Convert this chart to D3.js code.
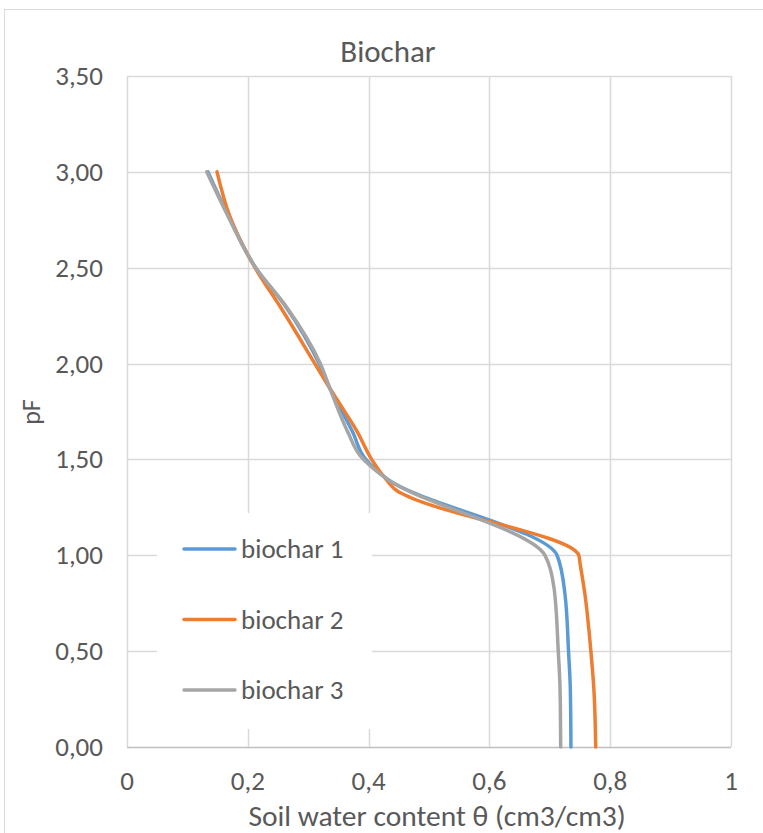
<!DOCTYPE html>
<html><head><meta charset="utf-8">
<script src="https://cdn.jsdelivr.net/npm/d3@7"></script>
<style>body{margin:0;background:#fff;} svg{display:block;}</style>
</head><body>
<script>
const seriesNames = ["biochar 1", "biochar 2", "biochar 3"];
const seriesColors = ["#5B9BD5", "#ED7D31", "#A5A5A5"];
const bio1Theta = [0.735, 0.734, 0.731, 0.725, 0.712, 0.430, 0.393, 0.374, 0.336, 0.318, 0.262, 0.213, 0.168, 0.134];
const bio1PF    = [0,     0.3,   0.5,   0.8,   1.0,   1.40,  1.51,  1.64,  1.87,  2.0,   2.3,   2.5,   2.77,  3.0];
const bio2Theta = [0.776, 0.773, 0.768, 0.758, 0.750, 0.748, 0.470, 0.450, 0.428, 0.405, 0.382, 0.336, 0.311, 0.253, 0.212, 0.170, 0.149];
const bio2PF    = [0,     0.3,   0.5,   0.8,   0.96,  1.0,   1.30,  1.33,  1.40,  1.50,  1.64,  1.87,  2.0,   2.3,   2.5,   2.77,  3.0];
const bio3Theta = [0.718, 0.717, 0.714, 0.707, 0.692, 0.427, 0.386, 0.366, 0.336, 0.320, 0.263, 0.213, 0.167, 0.132];
const bio3PF    = [0,     0.3,   0.5,   0.83,  1.0,   1.405, 1.52,  1.64,  1.87,  2.0,   2.3,   2.5,   2.77,  3.0];
const xTicks = [0, 0.2, 0.4, 0.6, 0.8, 1];
const xTickLabels = ["0", "0,2", "0,4", "0,6", "0,8", "1"];
const yTicks = [0, 0.5, 1, 1.5, 2, 2.5, 3, 3.5];
const yTickLabels = ["0,00", "0,50", "1,00", "1,50", "2,00", "2,50", "3,00", "3,50"];
const chartTitle = "Biochar";
const xTitle = "Soil water content \u03B8 (cm3/cm3)";
const yTitle = "pF";

const W = 763, H = 833;
const font = "Carlito, Calibri, Lato, 'Open Sans', sans-serif";
const txt = "#595959";
const svg = d3.select("body").append("svg").attr("width", W).attr("height", H);
svg.append("rect").attr("x", 4.5).attr("y", 9.5).attr("width", W + 10).attr("height", H + 10)
  .attr("fill", "#fff").attr("stroke", "#d9d9d9");

const x = d3.scaleLinear().domain([0, 1]).range([127, 731]);
const y = d3.scaleLinear().domain([0, 3.5]).range([747, 76]);

const grid = svg.append("g");
grid.selectAll("line.h").data(yTicks).enter().append("line")
  .attr("x1", x(0)).attr("x2", x(1)).attr("y1", d => Math.round(y(d)) + 0.5).attr("y2", d => Math.round(y(d)) + 0.5)
  .attr("stroke", d => d === 0 ? "#bfbfbf" : "#d9d9d9").attr("stroke-width", 1.5);
grid.selectAll("line.v").data(xTicks).enter().append("line")
  .attr("y1", y(0)).attr("y2", y(3.5)).attr("x1", d => Math.round(x(d)) + 0.5).attr("x2", d => Math.round(x(d)) + 0.5)
  .attr("stroke", "#d9d9d9").attr("stroke-width", 1.5);

svg.selectAll("text.yt").data(yTicks).enter().append("text")
  .attr("x", 103).attr("y", d => y(d) + 9).attr("text-anchor", "end")
  .attr("font-family", font).attr("font-size", 27).attr("fill", txt)
  .text((d, i) => yTickLabels[i]);
svg.selectAll("text.xt").data(xTicks).enter().append("text")
  .attr("x", d => x(d)).attr("y", 790).attr("text-anchor", "middle")
  .attr("font-family", font).attr("font-size", 27).attr("fill", txt)
  .text((d, i) => xTickLabels[i]);

svg.append("text").attr("x", 388).attr("y", 62).attr("text-anchor", "middle")
  .attr("font-family", font).attr("font-size", 31).attr("fill", txt).text(chartTitle);
svg.append("text").attr("x", 437).attr("y", 826).attr("text-anchor", "middle")
  .attr("font-family", font).attr("font-size", 29.5).attr("fill", txt).text(xTitle);
svg.append("text").attr("transform", "translate(40,412) rotate(-90)").attr("text-anchor", "middle")
  .attr("font-family", font).attr("font-size", 26).attr("fill", txt).text(yTitle);

const series = [
  {name: seriesNames[0], color: seriesColors[0], t: bio1Theta, p: bio1PF},
  {name: seriesNames[1], color: seriesColors[1], t: bio2Theta, p: bio2PF},
  {name: seriesNames[2], color: seriesColors[2], t: bio3Theta, p: bio3PF}
];
const line = d3.line().x(d => x(d[0])).y(d => y(d[1])).curve(d3.curveMonotoneY);
series.forEach(s => {
  svg.append("path").datum(s.t.map((v, i) => [v, s.p[i]]))
    .attr("d", line).attr("fill", "none").attr("stroke", s.color)
    .attr("stroke-width", 3.5).attr("stroke-linecap", "round").attr("stroke-linejoin", "round");
});

// legend
svg.append("rect").attr("x", 157).attr("y", 513).attr("width", 215).attr("height", 216).attr("fill", "#fff");
const lg = svg.selectAll("g.lg").data(series).enter().append("g")
  .attr("transform", (d, i) => `translate(0,${549 + i * 70.5})`);
lg.append("line").attr("x1", 184).attr("x2", 235).attr("y1", 0).attr("y2", 0)
  .attr("stroke", d => d.color).attr("stroke-width", 3.5).attr("stroke-linecap", "round");
lg.append("text").attr("x", 241).attr("y", 9).attr("font-family", font).attr("font-size", 27)
  .attr("fill", txt).text(d => d.name);
</script>
</body></html>
